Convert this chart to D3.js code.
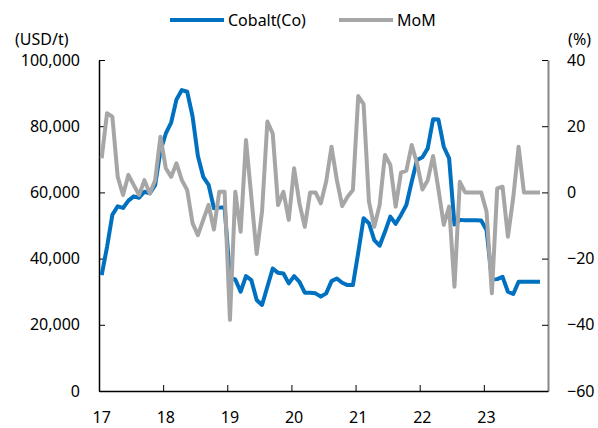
<!DOCTYPE html>
<html>
<head>
<meta charset="utf-8">
<script src="https://cdn.jsdelivr.net/npm/d3@7"></script>
<style>
  body { margin: 0; background: #fff; }
  text { font-family: "Noto Sans", sans-serif; fill: #000; }
</style>
</head>
<body>
<div id="chart-area"></div>
<script>
// monthly, Jan 2017 .. Nov 2023
const years = ["17", "18", "19", "20", "21", "22", "23"]
const cobalt = [
  35000, 43500, 53200, 55800, 55300, 57500, 58800, 58400, 60200, 59700, 62200, 72500,
  77800, 81100, 88100, 90900, 90400, 83000, 71000, 64700, 62300, 55200, 55400, 55500,
  34200, 33700, 30000, 34700, 33500, 27500, 26000, 31500, 37000, 35700, 35500, 32500,
  34700, 33000, 29700, 29700, 29500, 28500, 29500, 33200, 34000, 32700, 32000, 32000,
  41800, 52200, 50700, 45600, 43900, 48100, 52700, 50500, 53200, 56200, 63200, 69800,
  70600, 73300, 82100, 82000, 73800, 70300, 50300, 51700, 51600, 51600, 51600, 51500,
  48600, 33700, 33800, 34500, 30000, 29300, 33000, 33000, 33000, 33000, 33000
]
const mom = [
  10.3, 23.9, 22.9, 4.7, -0.8, 5.3, 2.2, -0.8, 3.7, -0.3, 3.7, 16.8,
  7.3, 4.7, 8.8, 3.7, 0.7, -9.3, -12.9, -8.3, -3.8, -11.2, 0.2, 0.2,
  -38.5, 0.2, -11.9, 15.8, -1.4, -18.6, -5.8, 21.4, 17.8, -3.8, 0.2, -8.3,
  7.3, -3.3, -10.4, 0, 0, -3.3, 3.3, 13.8, 3.7, -4.1, -1.3, 0.7,
  29.1, 26.7, -2.8, -10.4, -3.8, 11.3, 8.3, -4.3, 6.0, 6.6, 14.3, 8.8,
  0.9, 3.7, 11.0, 1.0, -9.8, -4.3, -28.5, 3.2, 0, 0, 0, 0,
  -5.8, -30.5, 1.2, 1.7, -13.4, -1.5, 13.8, 0, 0, 0, 0
]
const leftTicks = [0, 20000, 40000, 60000, 80000, 100000]
const rightTicks = [-60, -40, -20, 0, 20, 40]

const MARGIN = { LEFT: 99, RIGHT: 50, TOP: 60, BOTTOM: 37 }
const WIDTH = 598 - MARGIN.LEFT - MARGIN.RIGHT
const HEIGHT = 428 - MARGIN.TOP - MARGIN.BOTTOM

const svg = d3.select("#chart-area").append("svg")
  .attr("width", 598)
  .attr("height", 428)

const g = svg.append("g")
  .attr("transform", `translate(${MARGIN.LEFT}, ${MARGIN.TOP})`)

const x = d3.scaleLinear()
  .domain([-0.5, 83.5])
  .range([0, WIDTH])
const y = d3.scaleLinear()
  .domain([0, 100000])
  .range([HEIGHT, 0])
const y2 = d3.scaleLinear()
  .domain([-60, 40])
  .range([HEIGHT, 0])

// axes
const yAxisCall = d3.axisLeft(y)
  .tickValues(leftTicks)
  .tickSizeInner(-6)
  .tickSizeOuter(0)
  .tickPadding(19)
  .tickFormat(d3.format(","))
const yAxis = g.append("g").call(yAxisCall)
yAxis.selectAll("text").attr("font-size", "16px")

const y2AxisCall = d3.axisRight(y2)
  .tickValues(rightTicks)
  .tickSizeInner(-6)
  .tickSizeOuter(0)
  .tickPadding(19)
const y2Axis = g.append("g")
  .attr("transform", `translate(${WIDTH}, 0)`)
  .call(y2AxisCall)
y2Axis.selectAll("text").attr("font-size", "16px")
y2Axis.select(".domain").attr("stroke", "#868686").attr("stroke-width", 2)

const xAxisCall = d3.axisBottom(x)
  .tickValues(years.slice(1).map((d, i) => 11.5 + i * 12))
  .tickSizeInner(-6)
  .tickSizeOuter(0)
  .tickFormat("")
const xAxis = g.append("g")
  .attr("transform", `translate(0, ${HEIGHT})`)
  .call(xAxisCall)
xAxis.select(".domain").attr("stroke-width", 1.5)
yAxis.select(".domain").attr("stroke-width", 1.5)
g.selectAll(".tick line").attr("stroke", "#000")

g.selectAll(".year-label")
  .data(years)
  .enter().append("text")
  .attr("class", "year-label")
  .attr("x", (d, i) => x(i * 12))
  .attr("y", HEIGHT + 32)
  .attr("text-anchor", "middle")
  .attr("font-size", "16px")
  .text(d => d)

// unit labels
svg.append("text")
  .attr("x", 15).attr("y", 45)
  .attr("font-size", "16px")
  .text("(USD/t)")
svg.append("text")
  .attr("x", 591).attr("y", 45)
  .attr("text-anchor", "end")
  .attr("font-size", "16px")
  .text("(%)")

// lines
const priceLine = d3.line()
  .x((d, i) => x(i))
  .y(d => y(d))
const momLine = d3.line()
  .x((d, i) => x(i))
  .y(d => y2(d))

g.append("path")
  .datum(cobalt)
  .attr("fill", "none")
  .attr("stroke", "#0070C0")
  .attr("stroke-width", 4)
  .attr("stroke-linejoin", "round")
  .attr("d", priceLine)

g.append("path")
  .datum(mom)
  .attr("fill", "none")
  .attr("stroke", "#A6A6A6")
  .attr("stroke-width", 4)
  .attr("stroke-linejoin", "round")
  .attr("d", momLine)

// legend
const legend = [
  { name: "Cobalt(Co)", color: "#0070C0", x: 170 },
  { name: "MoM", color: "#A6A6A6", x: 339 }
]
legend.forEach(l => {
  svg.append("line")
    .attr("x1", l.x).attr("x2", l.x + 54)
    .attr("y1", 20).attr("y2", 20)
    .attr("stroke", l.color)
    .attr("stroke-width", 4)
  svg.append("text")
    .attr("x", l.x + 58).attr("y", 26)
    .attr("font-size", "16px")
    .text(l.name)
})
</script>
</body>
</html>
